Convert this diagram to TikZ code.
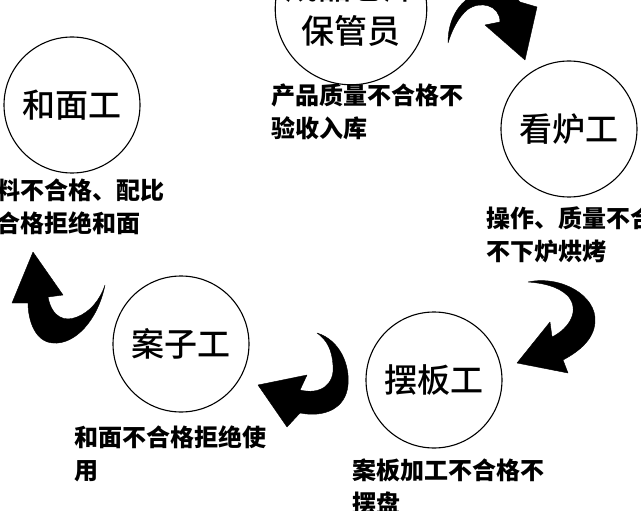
\documentclass[tikz,border=0pt]{standalone}
\usepackage{fontspec}
\setmainfont{Noto Sans CJK SC}
\newfontfamily\workerfont{Noto Sans CJK SC}[UprightFont=* Medium]

\begin{document}
\begin{tikzpicture}[x=1pt, y=-1pt,
   worker/.style={draw, circle, line width=1.1pt, minimum size=136pt, inner sep=0pt,
                  align=center, font=\workerfont\fontsize{33}{44}\selectfont},
   note/.style={anchor=west, inner sep=0pt, align=left,
                font=\fontsize{24}{33}\selectfont\bfseries},
   bendarrow/.style={fill=black, draw=black, line join=round}]

\useasboundingbox (0,0) rectangle (641,511);

% workers
\node[worker] (baoguan) at (351,9)   {成品仓库\\保管员};
\node[worker] (hemian)  at (72,105)  {和面工};
\node[worker] (kanlu)   at (569,129) {看炉工};
\node[worker] (baiban)  at (434,380) {摆板工};
\node[worker] (anzi)    at (181,344) {案子工};

% notes
\node[note] (baoguan-note) at (271,112) {产品质量不合格不\\验收入库};
\node[note] (hemian-note)  at (-4,207)  {料不合格、配比\\合格拒绝和面};
\node[note] (kanlu-note)   at (486,235) {操作、质量不合\\不下炉烘烤};
\node[note] (baiban-note)  at (352,487) {案板加工不合格不\\摆盘};
\node[note] (anzi-note)    at (74,454)  {和面不合格拒绝使\\用};

% arrows
\fill[bendarrow] (448,43) .. controls (448,5) and (475,-15) .. (505,-8)
   .. controls (512,-6) and (517,-2) .. (520,2) -- (537,7) -- (525,60) -- (485,25)
   -- (500,22) .. controls (500,5) and (480,0) .. (467,10)
   .. controls (458,18) and (452,30) .. (448,43) -- cycle;
\fill[bendarrow] (528,282) .. controls (560,275) and (597,295) .. (595,322)
   .. controls (594,340) and (578,352) .. (563,360) -- (568,373) -- (517,363) -- (550,322)
   -- (552,337) .. controls (570,328) and (580,310) .. (568,296)
   .. controls (558,286) and (542,283) .. (528,282) -- cycle;
\fill[bendarrow] (317,333) .. controls (340,340) and (350,365) .. (348,385)
   .. controls (346,408) and (325,418) .. (300,413) -- (287,427) -- (258,385) -- (307,375)
   -- (300,390) .. controls (320,395) and (335,385) .. (333,365)
   .. controls (332,350) and (327,340) .. (317,333) -- cycle;
\fill[bendarrow] (105,285) .. controls (98,320) and (75,345) .. (53,343)
   .. controls (35,342) and (28,320) .. (28,303) -- (12,303) -- (33,252) -- (63,295)
   -- (48,297) .. controls (52,318) and (65,322) .. (77,317)
   .. controls (90,312) and (100,300) .. (105,285) -- cycle;

\end{tikzpicture}
\end{document}
